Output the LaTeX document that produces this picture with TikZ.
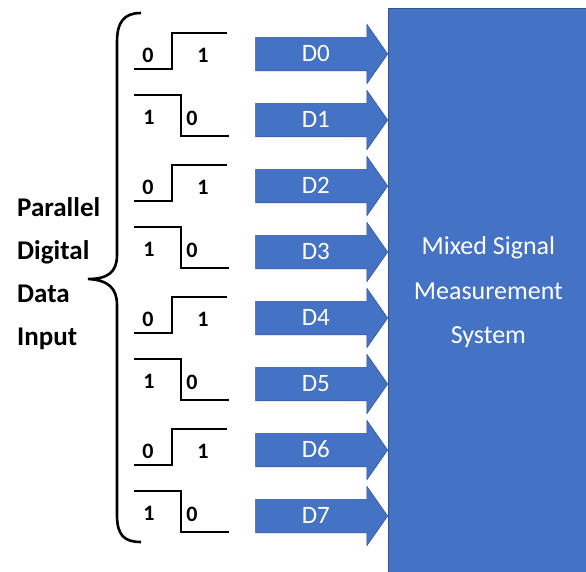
\documentclass[tikz,border=0pt]{standalone}
\usepackage{fontspec}
\setmainfont{Carlito}
\usepackage{xcolor}
\usetikzlibrary{shapes.arrows}
\definecolor{accblue}{HTML}{4472C4}
\definecolor{accedge}{HTML}{2F528F}
\tikzset{
	dataarrow/.style={
			single arrow, anchor=tip, fill=accblue, draw=accedge, line width=0.5pt,
			minimum height=132pt, single arrow head extend=13pt, single arrow tip angle=110,
			inner ysep=9pt, inner xsep=2pt, text height=15pt, text depth=0pt,
			text=white, font=\fontsize{25}{25}\selectfont
		},
	bit/.style={font=\fontsize{22}{22}\bfseries\selectfont, inner sep=0pt},
	wave/.style={line width=2.8pt, line cap=rect}
}

\begin{document}
\begin{tikzpicture}[x=1pt,y=-1pt]
		\useasboundingbox (0,0) rectangle (586,571);
		\node[anchor=north west, fill=accblue, draw=accedge, line width=0.8pt,
			minimum width=200pt, minimum height=568pt, align=center, text=white,
			font=\fontsize{26}{44.5}\selectfont] (mss) at (388,8) {Mixed Signal\\Measurement\\System};
		% brace
		\draw[line width=2.6pt] (141,13) .. controls (124,13) and (117,22) .. (117,42) -- (117,255)
			.. controls (117,272) and (108,279) .. (88,279)
			.. controls (108,280) and (117,288) .. (117,305) -- (117,515)
			.. controls (117,535) and (124,542) .. (141,542);
		\node[anchor=west, align=left, inner sep=0pt, font=\fontsize{27}{43}\bfseries\selectfont] (lbl) at (17,274) {Parallel\\Digital\\Data\\Input};
		% data lines
		\draw[wave] (135,69) -- (172,69) -- (172,33) -- (226,33);
		\node[bit] (b0l) at (148,55) {0};
		\node[bit] (b0h) at (203,55) {1};
		\node[dataarrow] (d0) at (388,54) {D0};
		\draw[wave] (135,95) -- (181,95) -- (181,136) -- (228,136);
		\node[bit] (b1h) at (149,117) {1};
		\node[bit] (b1l) at (192,118) {0};
		\node[dataarrow] (d1) at (388,120) {D1};
		\draw[wave] (135,201) -- (172,201) -- (172,165) -- (226,165);
		\node[bit] (b2l) at (148,187) {0};
		\node[bit] (b2h) at (203,187) {1};
		\node[dataarrow] (d2) at (388,186) {D2};
		\draw[wave] (135,227) -- (181,227) -- (181,268) -- (228,268);
		\node[bit] (b3h) at (149,249) {1};
		\node[bit] (b3l) at (192,250) {0};
		\node[dataarrow] (d3) at (388,252) {D3};
		\draw[wave] (135,333) -- (172,333) -- (172,297) -- (226,297);
		\node[bit] (b4l) at (148,319) {0};
		\node[bit] (b4h) at (203,319) {1};
		\node[dataarrow] (d4) at (388,318) {D4};
		\draw[wave] (135,359) -- (181,359) -- (181,400) -- (228,400);
		\node[bit] (b5h) at (149,381) {1};
		\node[bit] (b5l) at (192,382) {0};
		\node[dataarrow] (d5) at (388,384) {D5};
		\draw[wave] (135,465) -- (172,465) -- (172,429) -- (226,429);
		\node[bit] (b6l) at (148,451) {0};
		\node[bit] (b6h) at (203,451) {1};
		\node[dataarrow] (d6) at (388,450) {D6};
		\draw[wave] (135,491) -- (181,491) -- (181,532) -- (228,532);
		\node[bit] (b7h) at (149,513) {1};
		\node[bit] (b7l) at (192,514) {0};
		\node[dataarrow] (d7) at (388,516) {D7};
	\end{tikzpicture}
\end{document}
